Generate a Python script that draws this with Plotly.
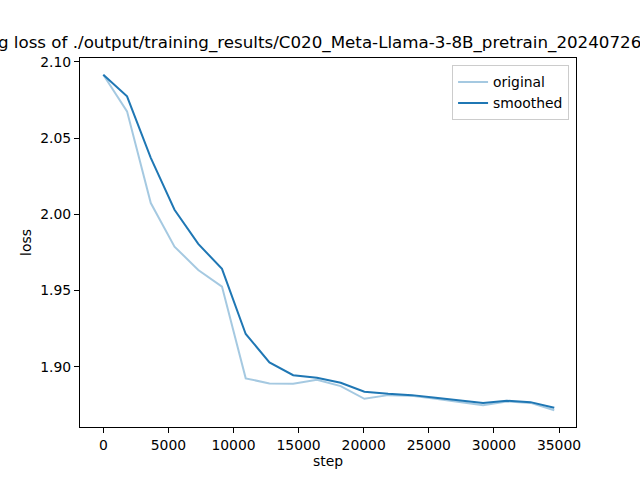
import plotly.graph_objects as go

FONT = "DejaVu Sans"

steps = [0, 1823, 3646, 5469, 7292, 9115, 10938, 12761, 14584, 16407,
         18230, 20053, 21876, 23699, 25522, 27345, 29168, 30991, 32814, 34637]
original = [2.0915, 2.0675, 2.0074, 1.9788, 1.9635, 1.9526, 1.8924, 1.8891, 1.8889, 1.8915,
            1.8873, 1.8790, 1.8814, 1.8810, 1.8790, 1.8770, 1.8748, 1.8772, 1.8763, 1.8715]
smoothed = [2.0915, 2.0774, 2.0370, 2.0030, 1.9806, 1.9642, 1.9215, 1.9029, 1.8945, 1.8928,
            1.8895, 1.8836, 1.8823, 1.8814, 1.8797, 1.8779, 1.8763, 1.8777, 1.8768, 1.8731]

title = "Training loss of ./output/training_results/C020_Meta-Llama-3-8B_pretrain_20240726_153045"

fig = go.Figure()
fig.add_trace(go.Scatter(x=steps, y=original, mode="lines", name="original",
    line=dict(color="rgba(31,119,180,0.4)", width=2)))
fig.add_trace(go.Scatter(x=steps, y=smoothed, mode="lines", name="smoothed",
    line=dict(color="#1f77b4", width=2)))

axis_style = dict(showline=True, linecolor="black", linewidth=1, mirror=True,
                  ticks="outside", ticklen=5, tickwidth=1, tickcolor="black",
                  showgrid=False, zeroline=False, automargin=False,
                  tickfont=dict(family=FONT, size=13.9, color="black"))
label_font = dict(family=FONT, size=13.9, color="black")

fig.update_layout(
    width=640, height=480,
    paper_bgcolor="white", plot_bgcolor="white",
    margin=dict(l=80, r=64, t=58, b=53),
    font=dict(family=FONT, size=13.9, color="black"),
    title=dict(text=title, x=0.5, xref="paper", xanchor="center",
               y=1 - 42 / 480, yref="container", yanchor="middle",
               font=dict(family=FONT, size=16.7, color="black")),
    xaxis=dict(title=dict(text="step", standoff=3, font=label_font), range=[-1790, 36306],
               tickvals=[0, 5000, 10000, 15000, 20000, 25000, 30000, 35000],
               tickformat="d", **axis_style),
    yaxis=dict(title=dict(text="loss", standoff=5, font=label_font), range=[1.8605, 2.1025],
               tickvals=[1.90, 1.95, 2.00, 2.05, 2.10], tickformat=".2f", **axis_style),
    legend=dict(x=0.986, y=0.98, xanchor="right", yanchor="top",
                bgcolor="rgba(255,255,255,0.8)", bordercolor="#cccccc", borderwidth=1,
                font=dict(family=FONT, size=13.9), itemwidth=30, tracegroupgap=0),
    showlegend=True,
)

# drop the browser's default 8px body margin so the figure sits at the page corner
fig.write_html("out.html", config={"displayModeBar": False},
               post_script="document.body.style.margin='0';")
